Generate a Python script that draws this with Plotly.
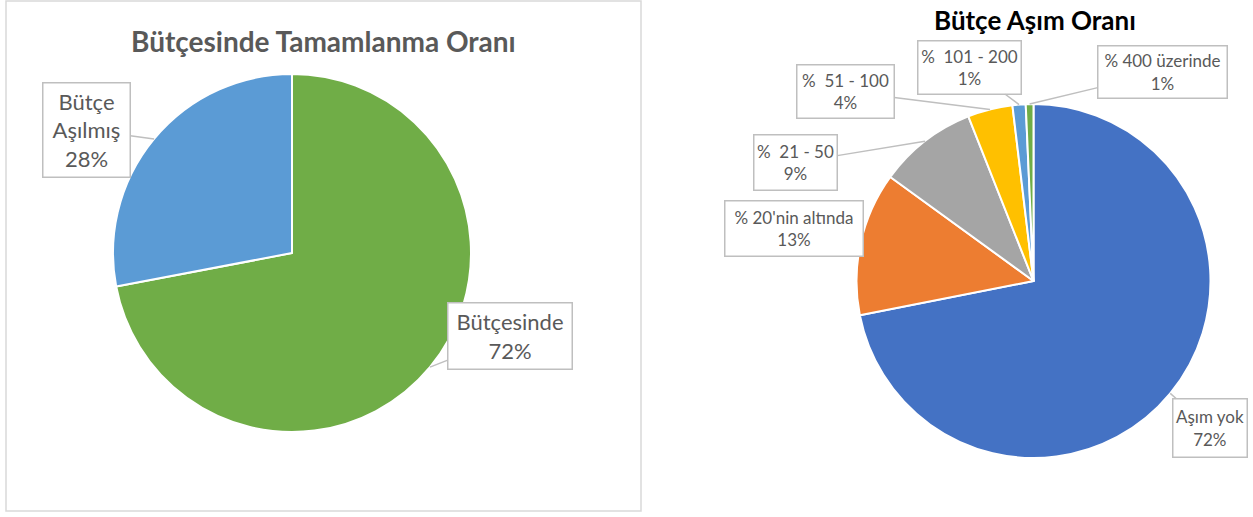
import math
import plotly.graph_objects as go

W, H = 1253, 517

# ---- data ----
left_labels = ["Bütçesinde", "Bütçe<br>Aşılmış"]
left_values = [72, 28]
left_colors = ["#70AD47", "#5B9BD5"]

right_labels = ["Aşım yok", "% 20'nin altında", "%  21 - 50", "%  51 - 100", "%  101 - 200", "% 400 üzerinde"]
right_values = [71.9, 13.1, 9.0, 4.1, 1.2, 0.7]
right_colors = ["#4472C4", "#ED7D31", "#A5A5A5", "#FFC000", "#5B9BD5", "#70AD47"]

left_title = "Bütçesinde Tamamlanma Oranı"
right_title = "Bütçe Aşım Oranı"

# ---- layout constants (pixels) ----
L_CX, L_CY, L_R = 292, 253, 179
R_CX, R_CY, R_R = 1033.5, 281, 177
FONT = "Lato"

# label box centers and sizes (pixel, top-left origin)
left_boxes = [(510, 336, 126, 68), (86.5, 130, 89, 96)]
right_boxes = [(1210, 428, 76, 60), (794, 228.5, 140, 57), (795.5, 162.5, 85, 57),
               (845.5, 91.5, 99, 55), (969.5, 67.5, 105, 55), (1162.5, 72, 131, 54)]


def dom(cx, cy, r):
    return dict(x=[(cx - r) / W, (cx + r) / W], y=[1 - (cy + r) / H, 1 - (cy - r) / H])


fig = go.Figure()
fig.add_trace(go.Pie(labels=left_labels, values=left_values, sort=False, direction="clockwise",
                     rotation=0, marker=dict(colors=left_colors, line=dict(color="white", width=2)),
                     textinfo="none", hoverinfo="label+percent", domain=dom(L_CX, L_CY, L_R),
                     showlegend=False))
fig.add_trace(go.Pie(labels=right_labels, values=right_values, sort=False, direction="clockwise",
                     rotation=0, marker=dict(colors=right_colors, line=dict(color="white", width=2)),
                     textinfo="none", hoverinfo="label+percent", domain=dom(R_CX, R_CY, R_R),
                     showlegend=False))

annotations = []


def add_labels(labels, values, boxes, cx, cy, r, size):
    total = sum(values)
    cum = 0
    for lab, v, (bx, by, bw, bh) in zip(labels, values, boxes):
        mid = (cum + v / 2) / total * 2 * math.pi
        cum += v
        px = cx + r * math.sin(mid)
        py = cy - r * math.cos(mid)
        pct = round(v / total * 100)
        annotations.append(dict(
            x=px / W, y=1 - py / H, xref="paper", yref="paper",
            ax=bx - px, ay=by - py, axref="pixel", ayref="pixel",
            text=f"{lab}<br>{pct}%", showarrow=True, arrowhead=0, arrowwidth=1.5,
            arrowcolor="#BFBFBF", bordercolor="#BFBFBF", borderwidth=1.5, borderpad=0,
            bgcolor="white", width=bw - 3, height=bh - 3, align="center", valign="middle",
            font=dict(family=FONT, size=size, color="#595959")))


add_labels(left_labels, left_values, left_boxes, L_CX, L_CY, L_R, 22)
add_labels(right_labels, right_values, right_boxes, R_CX, R_CY, R_R, 17)

annotations.append(dict(x=323 / W, y=1 - 41 / H, xref="paper", yref="paper", showarrow=False,
                        xanchor="center", yanchor="middle",
                        text=f"<b>{left_title}</b>", font=dict(family=FONT, size=28, color="#595959")))
annotations.append(dict(x=1035 / W, y=1 - 20 / H, xref="paper", yref="paper", showarrow=False,
                        xanchor="center", yanchor="middle",
                        text=f"<b>{right_title}</b>", font=dict(family=FONT, size=26, color="#000000")))

fig.update_layout(
    width=W, height=H, margin=dict(l=0, r=0, t=0, b=0),
    paper_bgcolor="white", plot_bgcolor="white",
    annotations=annotations,
    shapes=[dict(type="rect", xref="paper", yref="paper", x0=6 / W, x1=641 / W,
                 y0=1 - 511 / H, y1=1 - 1 / H, line=dict(color="#D9D9D9", width=1.5))],
)

fig.write_html("out.html", config={"displayModeBar": False},
               post_script="document.body.style.margin='0px';")
